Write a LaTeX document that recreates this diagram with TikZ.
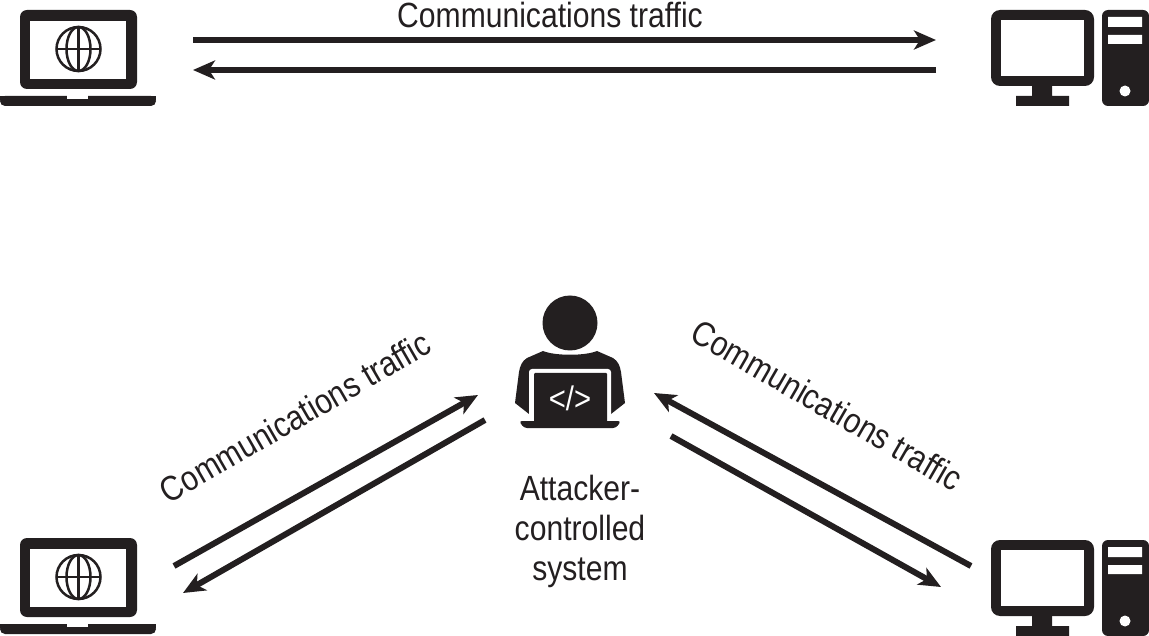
\documentclass[tikz,border=0pt]{standalone}
\usepackage{fontspec}
\usetikzlibrary{arrows.meta}
\setmainfont[FakeStretch=0.86]{Liberation Sans}
\definecolor{ink}{HTML}{231F20}
\tikzset{
    flow/.style={draw=ink,line width=6pt,-{Stealth[length=22pt,width=19pt,inset=6pt]}},
    lbl/.style={text=ink,inner sep=0pt,font=\fontsize{35}{40}\selectfont},
    laptoppic/.pic={
        \fill[ink,rounded corners=7pt] (20,89)--(20,10)--(137,10)--(137,89)--cycle;
        \fill[white] (30,21) rectangle (126,79);
        \fill[ink,rounded corners=5pt] (0,96)--(156,96)--(156,106)--(0,106)--cycle;
        \fill[ink] (0,96) rectangle (156,100);
        \fill[white] (67,95) rectangle (88,99);
        \draw[ink,line width=2.5pt] (78.5,49) circle (22);
        \draw[ink,line width=2.5pt] (78.5,49) ellipse (12 and 22);
        \draw[ink,line width=2.5pt] (56.5,49)--(100.5,49) (78.5,27)--(78.5,71);
    },
    deskpic/.pic={
        \fill[ink,rounded corners=9pt] (991,10) rectangle (1094,86);
        \fill[white] (1001,20) rectangle (1084,76);
        \fill[ink] (1032,85) rectangle (1052,97) (1016,96) rectangle (1069,106);
        \fill[ink,rounded corners=6pt] (1102,10) rectangle (1149,106);
        \fill[white] (1108,17) rectangle (1142,27) (1108,35) rectangle (1142,44);
        \fill[white] (1125,91) circle (5.5);
    }
}
\begin{document}
\begin{tikzpicture}[x=1pt,y=-1pt]
    \useasboundingbox (0,0) rectangle (1149,636);
    % machines
    \pic at (0,0) {laptoppic};
    \pic at (0,528) {laptoppic};
    \pic at (0,0) {deskpic};
    \pic at (0,530) {deskpic};
    % attacker
    \fill[ink] (570,323) circle (27.5);
    \fill[ink] (543,351) .. controls (555,356) and (585,356) .. (597,351)
        -- (613,358) .. controls (618,361) and (620,366) .. (621,372)
        -- (625,403) -- (611,414) -- (529,414) -- (515,403) -- (519,372)
        .. controls (520,366) and (522,361) .. (527,358) -- cycle;
    \fill[white,rounded corners=3pt] (529,422)--(529,369)--(611,369)--(611,422)--cycle;
    \fill[ink,rounded corners=1pt] (534,422)--(534,373)--(607,373)--(607,422)--cycle;
    \fill[ink,rounded corners=3pt] (519,421)--(621,421)--(616,428)--(524,428)--cycle;
    \node[white,inner sep=0pt,font=\fontsize{34}{38}\selectfont] (code) at (570,398) {</>};
    % traffic
    \coordinate (topA) at (193,40);
    \coordinate (topB) at (936,40);
    \coordinate (topC) at (936,70);
    \coordinate (topD) at (193,70);
    \coordinate (leftA) at (174,566);
    \coordinate (leftB) at (478,395);
    \coordinate (leftC) at (485,420);
    \coordinate (leftD) at (183,593);
    \coordinate (rightA) at (971,566);
    \coordinate (rightB) at (654,393);
    \coordinate (rightC) at (671,436);
    \coordinate (rightD) at (941,587);
    \draw[flow] (topA)--(topB);
    \draw[flow] (topC)--(topD);
    \draw[flow] (leftA)--(leftB);
    \draw[flow] (leftC)--(leftD);
    \draw[flow] (rightA)--(rightB);
    \draw[flow] (rightC)--(rightD);
    % labels
    \node[lbl] (trafficT) at (550,15) {Communications traffic};
    \node[lbl,rotate=30] (trafficL) at (295,417) {Communications traffic};
    \node[lbl,rotate=-30] (trafficR) at (827,405) {Communications traffic};
    \node[lbl,align=center] (attacker) at (580,531) {Attacker-\\controlled\\system};
\end{tikzpicture}
\end{document}
